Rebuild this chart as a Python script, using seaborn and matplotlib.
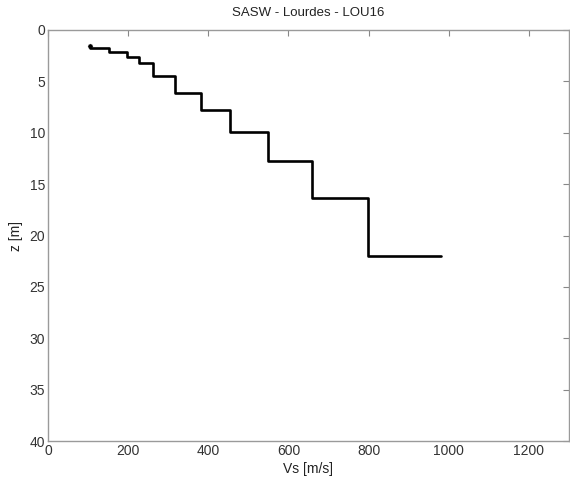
import numpy as np
import pandas as pd
import matplotlib
matplotlib.use("Agg")
import matplotlib.pyplot as plt
import seaborn as sns

# Vs profile (step points)
vs = [106, 152, 198, 228, 263, 318, 383, 455, 548, 660, 798, 980]
z = [1.75, 2.14, 2.6, 3.24, 4.47, 6.1, 7.78, 9.92, 12.75, 16.34, 21.95, 21.95]
start_vs = [106]
start_z = [1.6]

xticks = [0, 200, 400, 600, 800, 1000, 1200]
yticks = [0, 5, 10, 15, 20, 25, 30, 35, 40]

sns.set_style("white")
plt.rcParams['font.family'] = ['Liberation Sans', 'DejaVu Sans']

df = pd.DataFrame({"Vs": vs, "z": z})

fig = plt.figure(figsize=(5.7, 4.79), dpi=100)
ax = fig.add_axes([0.0842, 0.0793, 0.9138, 0.8581])

sns.lineplot(data=df, x="Vs", y="z", sort=False, estimator=None,
             drawstyle="steps-post", color="black", linewidth=1.9, ax=ax)
sns.scatterplot(x=start_vs, y=start_z, color="black", s=14, ax=ax)

ax.set_xlim(0, 1300)
ax.set_ylim(40, 0)
ax.set_xticks(xticks)
ax.set_yticks(yticks)
ax.tick_params(direction="in", length=4, width=0.8, color="#888888",
               labelcolor="#333333", labelsize=10, top=True, right=True,
               pad=2)
for s in ax.spines.values():
    s.set_color("#9a9a9a")
    s.set_linewidth(1.0)

ax.set_title("SASW - Lourdes - LOU16", fontsize=9.5, color="#222222", pad=10)
ax.set_xlabel("Vs [m/s]", fontsize=10, color="#222222", labelpad=3)
ax.set_ylabel("z [m]", fontsize=10, color="#222222", labelpad=5)

fig.savefig("out.png", dpi=100)
